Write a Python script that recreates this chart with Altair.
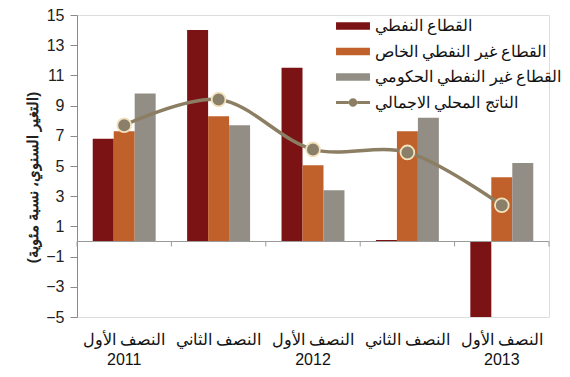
import json
import altair as alt
import pandas as pd

periods = ["2011-H1", "2011-H2", "2012-H1", "2012-H2", "2013-H1"]
half_labels = ["النصف الأول", "النصف الثاني", "النصف الأول", "النصف الثاني", "النصف الأول"]
year_labels = ["2011", "", "2012", "", "2013"]
series = ["القطاع النفطي", "القطاع غير النفطي الخاص", "القطاع غير النفطي الحكومي", "الناتج المحلي الاجمالي"]
oil = [6.8, 14.0, 11.5, 0.1, -5.0]
private = [7.3, 8.3, 5.05, 7.3, 4.25]
gov = [9.8, 7.7, 3.4, 8.2, 5.2]
gdp = [7.7, 9.4, 6.1, 5.9, 2.4]
y_ticks = [-5, -3, -1, 1, 3, 5, 7, 9, 11, 13, 15]
y_title = "(التغير السنوي، نسبة مئوية)"
colors = ["#7B1214", "#C0612B", "#928D85", "#8C7E62"]

rows = []
for name, vals in zip(series, [oil, private, gov, gdp]):
    for p, v in zip(periods, vals):
        rows.append({"period": p, "series": name, "value": v})
df = pd.DataFrame(rows)

label_arrays = [[h, y] for h, y in zip(half_labels, year_labels)]
label_expr = f"{json.dumps(label_arrays, ensure_ascii=False)}[indexof({json.dumps(periods)}, datum.value)]"

x_scale = alt.Scale(domain=periods, paddingInner=0, paddingOuter=0)
y_scale = alt.Scale(domain=[-5, 15], nice=False, zero=False)
color_scale = alt.Scale(domain=series, range=colors)

x_axis = alt.Axis(title=None, domain=False, ticks=False, labelExpr=label_expr,
                  labelFontSize=16, labelLineHeight=20, labelPadding=14, labelAngle=0,
                  labelColor="#111", labelOverlap=False)
y_axis = alt.Axis(title=y_title, values=y_ticks, grid=False, domainColor="#8a8a8a",
                  tickColor="#8a8a8a", tickSize=7, labelFontSize=16, labelPadding=6,
                  labelColor="#222", titleFontSize=15, titleFontWeight="bold",
                  titleColor="#222", titlePadding=5, titleY=162, labelOverlap=False)

X = alt.X("period:N", scale=x_scale, axis=x_axis, sort=periods)
Y = alt.Y("value:Q", scale=y_scale, axis=y_axis)

rect_path = "M-1.6,-0.35L1.6,-0.35L1.6,0.35L-1.6,0.35Z"
gdp_path = ("M-1.6,-0.13L-0.4,-0.13L-0.4,0.13L-1.6,0.13Z"
            "M0.4,-0.13L1.6,-0.13L1.6,0.13L0.4,0.13Z"
            "M0.4,0A0.4,0.4 0 1,1 -0.4,0A0.4,0.4 0 1,1 0.4,0Z")
legend = alt.Legend(title=None, orient="none", legendX=265, legendY=0, symbolSize=450,
                    symbolOpacity=1, symbolStrokeWidth=0, labelFontSize=16, labelColor="#111",
                    labelOffset=11, rowPadding=6.5, padding=0, labelLimit=400)

base = alt.Chart(df)

bars = base.transform_filter(
    alt.FieldOneOfPredicate(field="series", oneOf=series[:3])
).mark_bar().encode(
    x=X,
    xOffset=alt.XOffset("series:N", sort=series[:3],
                        scale=alt.Scale(domain=series[:3], paddingInner=0, paddingOuter=0.75)),
    y=Y,
    color=alt.Color("series:N", scale=color_scale, legend=legend),
)

baseline = alt.Chart(pd.DataFrame({"value": [0]})).mark_rule(color="#9a9a9a", strokeWidth=1.2).encode(
    y=Y
)

tick_len = [-0.33]
ticks_df = pd.DataFrame({"period": periods, "value": [0] * len(periods), "low": tick_len * len(periods)})
tick_rules = alt.Chart(ticks_df).mark_rule(color="#9a9a9a").encode(
    x=alt.X("period:N", scale=x_scale, axis=x_axis, sort=periods, bandPosition=0),
    y=Y,
    y2=alt.Y2("low:Q"),
)
end_tick = alt.Chart(ticks_df.tail(1)).mark_rule(color="#9a9a9a").encode(
    x=alt.X("period:N", scale=x_scale, axis=x_axis, sort=periods, bandPosition=1),
    y=Y,
    y2=alt.Y2("low:Q"),
)

gdp_base = base.transform_filter(alt.datum.series == series[3])
line = gdp_base.mark_line(interpolate="catmull-rom", strokeWidth=3.5, color=colors[3]).encode(
    x=X, y=Y,
)
points = gdp_base.mark_point(filled=True, size=190, fill="#8A7F68", stroke="#F2E2BE",
                             strokeWidth=1.8, opacity=1).encode(
    x=X, y=Y,
)

legend_layer = base.transform_filter(alt.datum.period == periods[0]).mark_point(
    filled=True, opacity=0).encode(
    x=X, y=Y,
    color=alt.Color("series:N", scale=color_scale, legend=legend),
    shape=alt.Shape("series:N", scale=alt.Scale(domain=series, range=[rect_path] * 3 + [gdp_path]),
                    legend=legend),
)

chart = alt.layer(bars, baseline, tick_rules, end_tick, line, points, legend_layer).properties(
    width=472, height=302,
    autosize=alt.AutoSizeParams(type="none"),
    padding={"left": 69, "top": 7, "right": 13, "bottom": 56},
).configure_view(stroke=None).configure(font="Liberation Sans")

chart.save("out.html", embed_options={"renderer": "svg", "actions": False})
